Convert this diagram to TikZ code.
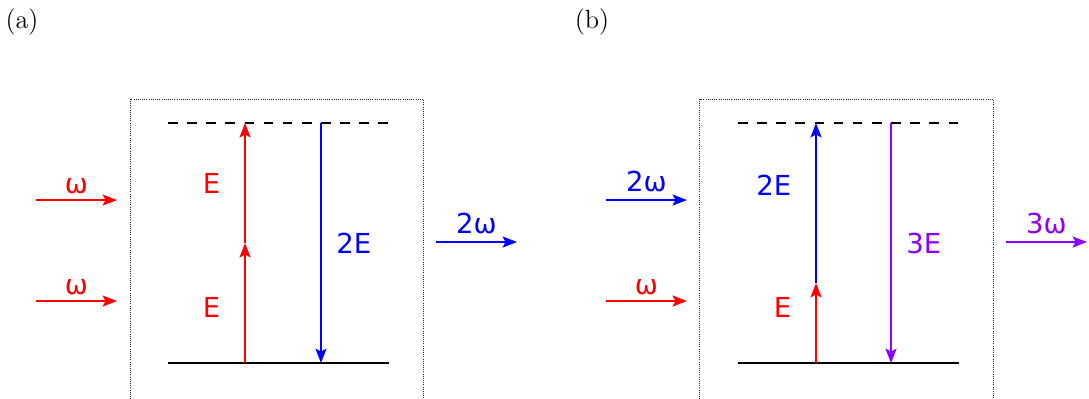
\documentclass[tikz,border=0pt]{standalone}
\usepackage{fontspec}
\newfontfamily\dejavu{DejaVu Sans}
\usetikzlibrary{arrows.meta}
\definecolor{violetline}{RGB}{140,0,255}

\begin{document}
\begin{tikzpicture}[
    level/.style={line width=1.1pt},
    virtual/.style={line width=0.8pt, dash pattern=on 4pt off 4pt},
    frame/.style={line width=0.4pt, dash pattern=on 0.4pt off 0.5pt, black!85},
    photon/.style={line width=0.8pt, -{Stealth[length=6pt, width=4.6pt, inset=1.2pt]}},
    lbl/.style={font=\dejavu\fontsize{11.5}{14}\selectfont, inner sep=3pt},
    panel/.style={font=\fontsize{11}{13}\selectfont}]
\useasboundingbox (0,0) rectangle (16,5.848);
\clip (0,0) rectangle (16,5.848);

% panel (a): second harmonic
\node[panel] (pa) at (0.323,5.524) {(a)};
\draw[frame] (1.910,-0.3) rectangle (6.215,4.393);
\coordinate (gaL) at (2.468,0.514);
\coordinate (gaR) at (5.715,0.514);
\coordinate (vaL) at (2.468,4.040);
\coordinate (vaR) at (5.715,4.040);
\draw[level] (gaL) -- (gaR);
\draw[virtual] (vaL) -- (vaR);

\coordinate (a0) at (3.600,0.514);
\coordinate (a1) at (3.600,2.277);
\coordinate (a2) at (3.600,4.040);
\draw[photon, red] (a0) -- node[lbl, left=7pt, pos=0.46] {E} (a1);
\draw[photon, red] (a1) -- node[lbl, left=7pt] {E} (a2);
\coordinate (a3) at (4.716,4.040);
\coordinate (a4) at (4.716,0.514);
\draw[photon, blue] (a3) -- node[lbl, right=3pt] {2E} (a4);

\coordinate (ina1) at (0.529,2.909);
\coordinate (ina2) at (1.719,2.909);
\coordinate (ina3) at (0.529,1.425);
\coordinate (ina4) at (1.719,1.425);
\draw[photon, red] (ina1) -- node[lbl, above=-1pt] {ω} (ina2);
\draw[photon, red] (ina3) -- node[lbl, above=-1pt] {ω} (ina4);
\coordinate (outa1) at (6.406,2.292);
\coordinate (outa2) at (7.596,2.292);
\draw[photon, blue] (outa1) -- node[lbl, above] {2ω} (outa2);

% panel (b): sum frequency
\node[panel] (pb) at (8.698,5.524) {(b)};
\draw[frame] (10.284,-0.3) rectangle (14.589,4.393);
\coordinate (gbL) at (10.843,0.514);
\coordinate (gbR) at (14.090,0.514);
\coordinate (vbL) at (10.843,4.040);
\coordinate (vbR) at (14.090,4.040);
\draw[level] (gbL) -- (gbR);
\draw[virtual] (vbL) -- (vbR);

\coordinate (b0) at (11.989,0.514);
\coordinate (b1) at (11.989,1.690);
\coordinate (b2) at (11.989,4.040);
\draw[photon, red] (b0) -- node[lbl, left=7pt, pos=0.69] {E} (b1);
\draw[photon, blue] (b1) -- node[lbl, left=7pt, pos=0.61] {2E} (b2);
\coordinate (b3) at (13.091,4.040);
\coordinate (b4) at (13.091,0.514);
\draw[photon, violetline] (b3) -- node[lbl, right=3pt] {3E} (b4);

\coordinate (inb1) at (8.903,2.909);
\coordinate (inb2) at (10.093,2.909);
\coordinate (inb3) at (8.903,1.425);
\coordinate (inb4) at (10.093,1.425);
\draw[photon, blue] (inb1) -- node[lbl, above] {2ω} (inb2);
\draw[photon, red] (inb3) -- node[lbl, above=-1pt] {ω} (inb4);
\coordinate (outb1) at (14.780,2.292);
\coordinate (outb2) at (15.970,2.292);
\draw[photon, violetline] (outb1) -- node[lbl, above] {3ω} (outb2);
\end{tikzpicture}
\end{document}
